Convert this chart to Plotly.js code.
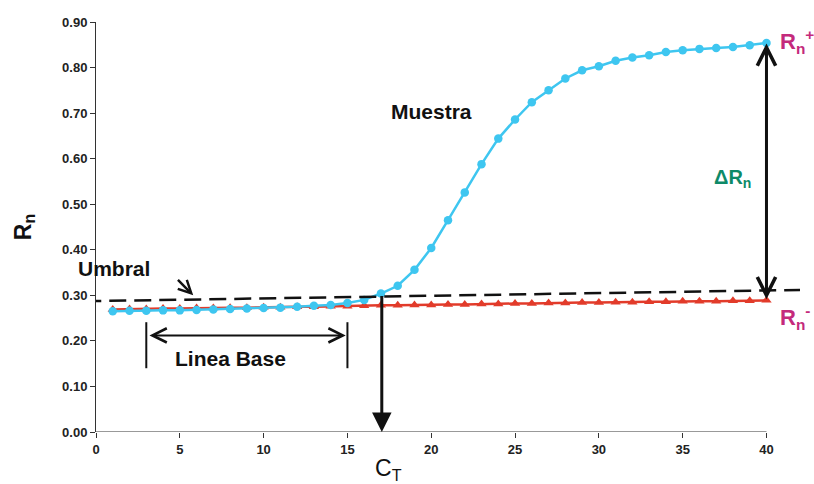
<!DOCTYPE html>
<html>
<head>
<meta charset="utf-8">
<script src="https://cdn.plot.ly/plotly-3.0.1.min.js"></script>
<style>html,body{margin:0;padding:0;background:#fff;}#chart{width:814px;height:484px;}</style>
</head>
<body>
<div id="chart"></div>
<script>
// Cycle numbers
const cycles = [1,2,3,4,5,6,7,8,9,10,11,12,13,14,15,16,17,18,19,20,21,22,23,24,25,26,27,28,29,30,31,32,33,34,35,36,37,38,39,40];
// Sample (Muestra) fluorescence Rn
const muestra = [0.265,0.266,0.266,0.267,0.267,0.268,0.269,0.270,0.271,0.272,0.273,0.275,0.277,0.279,0.283,0.290,
  0.304,0.321,0.356,0.404,0.465,0.526,0.588,0.644,0.686,0.724,0.750,0.776,0.794,0.803,
  0.815,0.822,0.827,0.834,0.838,0.841,0.843,0.845,0.849,0.854];
// Negative control Rn
const control = [0.269,0.270,0.270,0.271,0.271,0.272,0.272,0.273,0.273,0.274,0.274,0.275,0.275,0.276,0.276,0.277,
  0.278,0.278,0.279,0.279,0.280,0.280,0.281,0.281,0.282,0.282,0.283,0.283,0.284,0.284,
  0.285,0.285,0.286,0.286,0.287,0.287,0.287,0.288,0.288,0.289];
// Ticks
const xTicks = [0,5,10,15,20,25,30,35,40];
const yTicks = [0,0.1,0.2,0.3,0.4,0.5,0.6,0.7,0.8,0.9];
const yTickText = ["0.00","0.10","0.20","0.30","0.40","0.50","0.60","0.70","0.80","0.90"];
// Annotation anchors (data values)
const ctCycle = 17.05, ctValue = 0.302;
const umbral = {x0: -0.7, y0: 0.287, x1: 42.2, y1: 0.312};
const baseStart = 3, baseEnd = 15, baseY = 0.212, baseBarLow = 0.140, baseBarHigh = 0.241;
const rnPlus = 0.853, rnMinus = 0.288;

const sans = "Liberation Sans, Arial, sans-serif";
const cyan = "#3ec6f0", red = "#e23b2a", magenta = "#c42a7c", green = "#0e8a68";

const traces = [
  {x: cycles, y: control, type: "scatter", mode: "lines+markers",
   line: {color: red, width: 2.5}, marker: {symbol: "triangle-up", size: 9, color: red}, hoverinfo: "skip"},
  {x: cycles, y: muestra, type: "scatter", mode: "lines+markers",
   line: {color: cyan, width: 2.5}, marker: {symbol: "circle", size: 8.5, color: cyan}, hoverinfo: "skip"}
];

const layout = {
  width: 814, height: 484,
  margin: {l: 96, r: 14, t: 22, b: 52},
  paper_bgcolor: "#fff", plot_bgcolor: "#fff",
  showlegend: false,
  xaxis: {range: [0, 42], tickvals: xTicks, ticks: "outside", ticklen: 5, tickcolor: "#333",
          showgrid: false, zeroline: false, showline: false,
          tickfont: {family: sans, size: 13, color: "#222", weight: "bold"}},
  yaxis: {range: [0, 0.9], tickvals: yTicks, ticktext: yTickText, ticks: "outside", ticklen: 5, tickcolor: "#333",
          showgrid: false, zeroline: false, showline: true, linecolor: "#333", linewidth: 1,
          tickfont: {family: sans, size: 13, color: "#222", weight: "bold"},
          title: {text: "R<sub>n</sub>", standoff: 24, font: {family: sans, size: 23, color: "#111", weight: "bold"}}},
  shapes: [
    {type: "line", xref: "x", yref: "y", x0: 0, x1: 40, y0: 0, y1: 0, line: {color: "#333", width: 1}},
    {type: "line", xref: "x", yref: "y", x0: umbral.x0, y0: umbral.y0, x1: umbral.x1, y1: umbral.y1,
     line: {color: "#111", width: 2.5, dash: "17px,8px"}},
    {type: "line", xref: "x", yref: "y", x0: baseStart, x1: baseStart, y0: baseBarLow, y1: baseBarHigh, line: {color: "#111", width: 2}},
    {type: "line", xref: "x", yref: "y", x0: baseEnd, x1: baseEnd, y0: baseBarLow, y1: baseBarHigh, line: {color: "#111", width: 2}}
  ],
  annotations: [
    // CT arrow
    {x: ctCycle, y: 0, ax: ctCycle, ay: ctValue, xref: "x", yref: "y", axref: "x", ayref: "y",
     text: "", showarrow: true, arrowhead: 2, arrowsize: 1.3, arrowwidth: 3, arrowcolor: "#111", standoff: 0},
    // Delta Rn double arrow
    {x: 40, y: rnPlus, ax: 40, ay: rnMinus, xref: "x", yref: "y", axref: "x", ayref: "y",
     text: "", showarrow: true, arrowhead: 5, startarrowhead: 5, arrowside: "end+start", arrowsize: 1.2, startarrowsize: 1.2,
     arrowwidth: 3, arrowcolor: "#111", standoff: 0, startstandoff: 0},
    // Linea base double arrow
    {x: baseEnd - 0.1, y: baseY, ax: baseStart + 0.1, ay: baseY, xref: "x", yref: "y", axref: "x", ayref: "y",
     text: "", showarrow: true, arrowhead: 5, startarrowhead: 5, arrowside: "end+start", arrowsize: 1.4, startarrowsize: 1.4,
     arrowwidth: 2, arrowcolor: "#111", standoff: 0, startstandoff: 0},
    // Umbral arrow
    {x: 5.8, y: 0.300, ax: 4.8, ay: 0.337, xref: "x", yref: "y", axref: "x", ayref: "y",
     text: "", showarrow: true, arrowhead: 5, arrowsize: 1.0, arrowwidth: 2.5, arrowcolor: "#111", standoff: 0},
    // Texts
    {x: 1.1, y: 0.359, xref: "x", yref: "y", text: "Umbral", showarrow: false,
     font: {family: sans, size: 21, color: "#111", weight: "bold"}},
    {x: 20.0, y: 0.704, xref: "x", yref: "y", text: "Muestra", showarrow: false,
     font: {family: sans, size: 21, color: "#111", weight: "bold"}},
    {x: 8.0, y: 0.162, xref: "x", yref: "y", text: "Linea Base", showarrow: false,
     font: {family: sans, size: 21, color: "#111", weight: "bold"}},
    {x: 37.97, y: 0.557, xref: "x", yref: "y", text: "ΔR<sub>n</sub>", showarrow: false,
     font: {family: sans, size: 20, color: green, weight: "bold"}},
    {x: 40.7, y: 0.858, xref: "x", yref: "y", xanchor: "left", text: "R<sub>n</sub><sup>+</sup>", showarrow: false,
     font: {family: sans, size: 22, color: magenta, weight: "bold"}},
    {x: 40.7, y: 0.252, xref: "x", yref: "y", xanchor: "left", text: "R<sub>n</sub><sup>-</sup>", showarrow: false,
     font: {family: sans, size: 22, color: magenta, weight: "bold"}},
    {x: 17.45, y: 0, yshift: -37, xref: "x", yref: "y", text: "C<sub>T</sub>", showarrow: false,
     font: {family: sans, size: 23, color: "#111"}}
  ]
};

Plotly.newPlot("chart", traces, layout, {staticPlot: true, displayModeBar: false});
</script>
</body>
</html>
